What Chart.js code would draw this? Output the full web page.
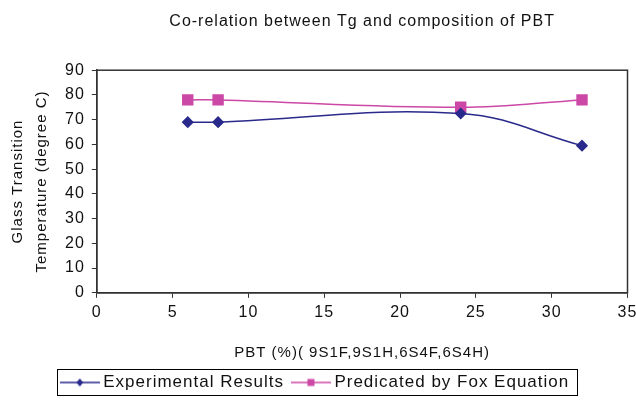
<!DOCTYPE html>
<html>
<head>
<meta charset="utf-8">
<script src="https://cdn.jsdelivr.net/npm/chart.js@4.4.1/dist/chart.umd.min.js"></script>
<style>
  body { margin: 0; background: #fff; }
  #wrap { width: 636px; height: 407px; }
</style>
</head>
<body>
<div id="wrap"><canvas id="tgChart" width="636" height="407"></canvas></div>
<script>
// PBT content (%) and Tg values
const pbtPercent = [6, 8, 24, 32];
const experimentalTg = [69, 69, 72.5, 59.5];
const foxTg = [78, 78, 75, 78];

const xTicks = { min: 0, max: 35, step: 5 };
const yTicks = { min: 0, max: 90, step: 10 };

const navy = '#2a2a8c';
const pink = '#cc48a6';

// small legend icons: short line with the marker in the middle
function legendIcon(color, shape) {
    const c = document.createElement('canvas');
    c.width = 40; c.height = 12;
    const g = c.getContext('2d');
    g.strokeStyle = color;
    g.lineWidth = 1.5;
    g.beginPath(); g.moveTo(0, 6); g.lineTo(40, 6); g.stroke();
    g.fillStyle = color;
    if (shape === 'diamond') {
        g.beginPath();
        g.moveTo(20, 2); g.lineTo(23.5, 6); g.lineTo(20, 10); g.lineTo(16.5, 6);
        g.closePath(); g.fill();
    } else {
        g.fillRect(16.5, 2.5, 7, 7);
    }
    return c;
}

// the old Excel export has loose letter spacing on every label
const spacingPlugin = {
    id: 'spacing',
    beforeLayout(chart) { chart.ctx.letterSpacing = '1px'; },
    beforeDraw(chart) { chart.ctx.letterSpacing = '1px'; }
};

// full box around the plot area plus a border around the legend items
const boxPlugin = {
    id: 'boxes',
    afterDraw(chart) {
        const ctx = chart.ctx;
        const a = chart.chartArea;
        ctx.save();
        ctx.strokeStyle = '#333';
        ctx.lineWidth = 1.5;
        ctx.strokeRect(a.left, a.top, a.right - a.left, a.bottom - a.top);
        const hb = chart.legend.legendHitBoxes;
        if (hb && hb.length) {
            const l = Math.min(...hb.map(b => b.left)) - 8;
            const r = Math.max(...hb.map(b => b.left + b.width)) + 8;
            const t = Math.min(...hb.map(b => b.top)) - 5;
            const btm = Math.max(...hb.map(b => b.top + b.height)) + 4;
            ctx.lineWidth = 1;
            ctx.strokeStyle = '#000';
            ctx.strokeRect(Math.round(l) + 0.5, Math.round(t) + 0.5, Math.round(r - l), Math.round(btm - t));
        }
        ctx.restore();
    }
};

const ctx = document.getElementById('tgChart').getContext('2d');
new Chart(ctx, {
    type: 'line',
    data: {
        datasets: [
            {
                label: 'Experimental Results',
                data: pbtPercent.map((x, i) => ({ x: x, y: experimentalTg[i] })),
                borderColor: navy,
                backgroundColor: navy,
                borderWidth: 1.5,
                pointStyle: 'rectRot',
                pointRadius: 5,
                tension: 0.4,
                fill: false
            },
            {
                label: 'Predicated by Fox Equation',
                data: pbtPercent.map((x, i) => ({ x: x, y: foxTg[i] })),
                borderColor: pink,
                backgroundColor: pink,
                borderWidth: 1.5,
                pointStyle: 'rect',
                pointRadius: 7,
                tension: 0.4,
                fill: false
            }
        ]
    },
    options: {
        responsive: false,
        animation: false,
        layout: { padding: { left: 6, right: 8, top: 0, bottom: 6 } },
        scales: {
            x: {
                type: 'linear',
                min: xTicks.min,
                max: xTicks.max,
                afterFit(scale) { scale.paddingRight = 0; },
                ticks: { stepSize: xTicks.step, color: '#111', font: { family: 'Liberation Sans', size: 16 }, padding: 5 },
                grid: { drawOnChartArea: false, drawTicks: true, tickLength: 5, color: '#333' },
                border: { color: '#333', width: 1.5 },
                title: {
                    display: true,
                    text: 'PBT (%)( 9S1F,9S1H,6S4F,6S4H)',
                    color: '#111',
                    font: { family: 'Liberation Sans', size: 15 },
                    padding: { top: 17, bottom: 0 }
                }
            },
            y: {
                min: yTicks.min,
                max: yTicks.max,
                ticks: { stepSize: yTicks.step, color: '#111', font: { family: 'Liberation Sans', size: 16 }, padding: 7 },
                grid: { drawOnChartArea: false, drawTicks: true, tickLength: 5, color: '#333' },
                border: { color: '#333', width: 1.5 },
                title: {
                    display: true,
                    text: ['Glass Transition', 'Temperature (degree C)'],
                    color: '#111',
                    font: { family: 'Liberation Sans', size: 15, lineHeight: 1.6 },
                    padding: { top: 0, bottom: 4 }
                }
            }
        },
        plugins: {
            title: {
                display: true,
                fullSize: false,
                text: 'Co-relation between Tg and composition of PBT',
                color: '#111',
                font: { family: 'Liberation Sans', size: 16, weight: 'normal' },
                padding: { top: 12, bottom: 39 }
            },
            legend: {
                display: true,
                position: 'bottom',
                align: 'center',
                labels: {
                    color: '#111',
                    font: { family: 'Liberation Sans', size: 17 },
                    usePointStyle: true,
                    pointStyleWidth: 30,
                    padding: 12,
                    generateLabels(chart) {
                        return chart.data.datasets.map((ds, i) => ({
                            text: ds.label,
                            fontColor: '#111',
                            pointStyle: legendIcon(ds.borderColor, i === 0 ? 'diamond' : 'square'),
                            datasetIndex: i,
                            hidden: false,
                            lineWidth: 0
                        }));
                    }
                }
            },
            tooltip: { enabled: false }
        }
    },
    plugins: [spacingPlugin, boxPlugin]
});
</script>
</body>
</html>
